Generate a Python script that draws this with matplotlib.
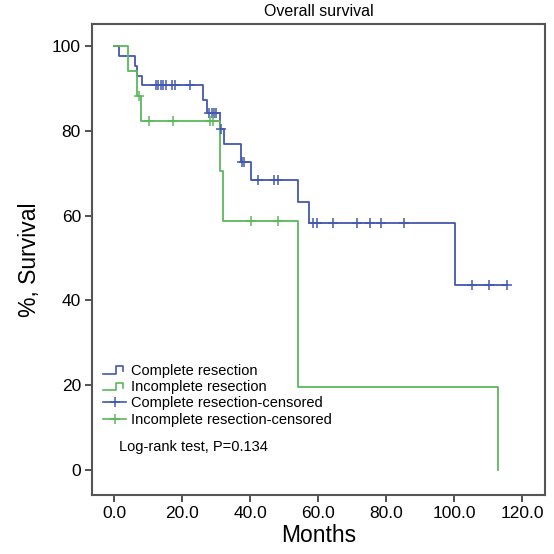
import matplotlib as mpl
mpl.use('Agg')
import matplotlib.pyplot as plt
from matplotlib.lines import Line2D
from matplotlib.legend_handler import HandlerBase
from matplotlib.ticker import FormatStrFormatter

plt.rcParams['font.family'] = ['Liberation Sans', 'DejaVu Sans']

# Complete resection (blue)
comp_t = [0, 1.3, 6.2, 6.7, 8.1, 26.1, 27.3, 31.2, 32.3, 37.3, 40.4, 54.2, 57.4, 100.3, 115.5]
comp_s = [100, 97.7, 95.3, 93.0, 90.7, 87.3, 84.1, 80.4, 76.8, 72.7, 68.5, 63.2, 58.2, 43.6, 43.6]
comp_cens_t = [12.4, 13.0, 13.7, 14.5, 15.3, 17.0, 17.9, 22.2,
               28.0, 28.7, 29.4, 30.0, 31.5, 37.6, 38.2, 42.4, 47.2, 48.1,
               58.4, 59.6, 64.5, 71.4, 75.3, 78.4, 85.2, 105.4, 110.4, 115.5]
comp_cens_s = [90.7] * 8 + [84.1] * 4 + [80.4] + [72.7] * 2 + [68.5] * 3 + [58.2] * 7 + [43.6] * 3

# Incomplete resection (green)
inc_t = [0, 4.0, 6.6, 8.0, 31.2, 32.1, 54.2, 112.9]
inc_s = [100, 94.1, 88.2, 82.4, 70.6, 58.8, 19.6, 0]
inc_cens_t = [7.2, 10.4, 17.3, 28.3, 29.1, 40.3, 48.3]
inc_cens_s = [88.2] + [82.4] * 4 + [58.8] * 2

BLUE = '#4358b0'
GREEN = '#5cb85a'


class StepHandler(HandlerBase):
	'''Draw a small step-shaped line as legend icon.'''
	def create_artists(self, legend, orig_handle, xdescent, ydescent, width, height, fontsize, trans):
		x0 = -xdescent
		y0 = -ydescent
		xs = [x0, x0 + width * 0.55, x0 + width * 0.55, x0 + width * 0.85, x0 + width * 0.85]
		ys = [y0 + height * 0.15, y0 + height * 0.15, y0 + height * 0.85, y0 + height * 0.85, y0 + height * 0.35]
		ln = Line2D(xs, ys, color=orig_handle.get_color(), lw=1.2, transform=trans)
		return [ln]


fig = plt.figure(figsize=(5.54, 5.54), dpi=100)
ax = fig.add_axes([92 / 554, 1 - 495 / 554, 453 / 554, 471 / 554])

l1, = ax.step(comp_t, comp_s, where='post', color=BLUE, lw=1.3)
l2, = ax.step(inc_t, inc_s, where='post', color=GREEN, lw=1.3)
ax.plot(comp_cens_t, comp_cens_s, ls='none', marker='+', ms=7, mew=1.1, color=BLUE)
ax.plot(inc_cens_t, inc_cens_s, ls='none', marker='+', ms=7, mew=1.1, color=GREEN)

ax.set_xlim(-6.5, 126.8)
ax.set_ylim(-5.9, 105.2)
ax.set_xticks([0, 20, 40, 60, 80, 100, 120])
ax.set_yticks([0, 20, 40, 60, 80, 100])
ax.xaxis.set_major_formatter(FormatStrFormatter('%.1f'))
ax.tick_params(labelsize=12.5, length=5, width=1.3, color='#444444', pad=3)
for sp in ax.spines.values():
	sp.set_color('#555555')
	sp.set_linewidth(1.5)
ax.tick_params(top=False, right=False)

ax.set_xlabel('Months', fontsize=16.5, labelpad=2)
ax.set_ylabel('%, Survival', fontsize=16.5, labelpad=8)
fig.text((92 + 545) / 2 / 554, 1 - 11 / 554, 'Overall survival', ha='center', va='center', fontsize=11.5)

h3 = Line2D([], [], color=BLUE, marker='+', ms=7, mew=1.1, lw=1.2)
h4 = Line2D([], [], color=GREEN, marker='+', ms=7, mew=1.1, lw=1.2)
ax.legend([l1, l2, h3, h4],
          ['Complete resection', 'Incomplete resection',
           'Complete resection-censored', 'Incomplete resection-censored'],
          handler_map={l1: StepHandler(), l2: StepHandler()},
          loc='upper left', bbox_to_anchor=(0.024, 0.278), frameon=False,
          borderpad=0, borderaxespad=0, fontsize=10.5, labelspacing=0.15,
          handlelength=1.6, handletextpad=0.3)
ax.text(0.06, 0.102, 'Log-rank test, P=0.134', transform=ax.transAxes,
        ha='left', va='center', fontsize=10.5)

fig.savefig('out.png', dpi=100)
